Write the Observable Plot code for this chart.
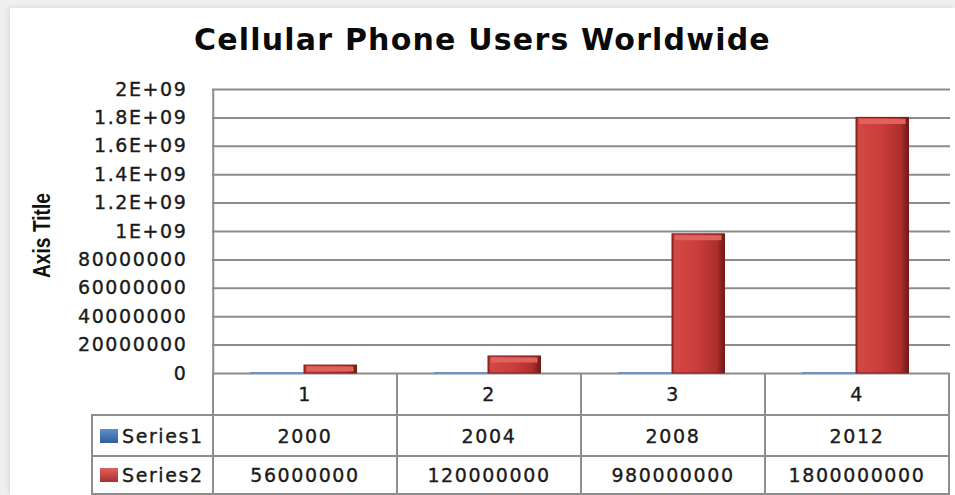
<!DOCTYPE html>
<html>
<head>
<meta charset="utf-8">
<script src="https://cdn.jsdelivr.net/npm/d3@7"></script>
<script src="https://cdn.jsdelivr.net/npm/@observablehq/plot@0.6"></script>
<style>
  html, body { margin: 0; padding: 0; background: #efefef; }
  #wrap { position: relative; width: 955px; height: 495px; overflow: hidden; background: #efefef; }
  #card { position: absolute; left: 10px; top: 8px; width: 945px; height: 487px; background: #fff; box-shadow: -2px -1px 4px rgba(0,0,0,0.08); }
  #title { position: absolute; left: 10px; top: 22px; width: 945px; text-align: center;
           font-family: "DejaVu Sans", Verdana, sans-serif; font-weight: bold; font-size: 30px; letter-spacing: 1.2px; color: #0a0a0a; }
  #chart { position: absolute; left: 0; top: 0; }
  #table { position: absolute; left: 0; top: 0; font-family: "DejaVu Sans", Verdana, sans-serif; font-size: 19px; letter-spacing: 1.6px; color: #1a1a1a; -webkit-text-stroke: 0.35px #1a1a1a; }
  .cell { position: absolute; box-sizing: border-box; display: flex; align-items: center; justify-content: center; }
  .hline, .vline { position: absolute; background: #8e8e8e; }
  .icon { display: inline-block; width: 18px; height: 14px; margin-right: 4px; -webkit-text-stroke: 0; }
</style>
</head>
<body>
<div id="wrap">
  <div id="card"></div>
  <div id="chart"></div>
  <div id="title"></div>
  <div id="table"></div>
</div>
<script>
const chartTitle = "Cellular Phone Users Worldwide";
const axisTitle = "Axis Title";
const categories = ["1", "2", "3", "4"];
const seriesNames = ["Series1", "Series2"];
const series1 = [2000, 2004, 2008, 2012];
const series2 = [56000000, 120000000, 980000000, 1800000000];
const yTicks = [0, 200000000, 400000000, 600000000, 800000000, 1000000000, 1200000000, 1400000000, 1600000000, 1800000000, 2000000000];
const yTickLabels = ["0", "20000000", "40000000", "60000000", "80000000", "1E+09", "1.2E+09", "1.4E+09", "1.6E+09", "1.8E+09", "2E+09"];

const rows1 = categories.map((c, i) => ({cat: c, series: seriesNames[0], value: series1[i]}));
const rows2 = categories.map((c, i) => ({cat: c, series: seriesNames[1], value: series2[i]}));

const W = 955, H = 495;
const mL = 212, mR = 5, mT = 89, mB = 122;
const bw = (W - mL - mR) / categories.length;
const barW = 53, in1 = 38, in2 = 91;

const chart = Plot.plot({
  width: W, height: H,
  marginTop: mT, marginBottom: mB, marginLeft: mL, marginRight: mR,
  style: {background: "transparent", fontFamily: "DejaVu Sans, Verdana, sans-serif", fontSize: "19px", color: "#1a1a1a"},
  x: {domain: categories, padding: 0, axis: null},
  y: {domain: [0, 2000000000], ticks: yTicks, tickFormat: d => yTickLabels[yTicks.indexOf(d)], tickSize: 0, tickPadding: 25, label: null},
  marks: [
    Plot.ruleY(yTicks, {stroke: "#8c8c8c", strokeWidth: 2}),
    Plot.ruleX([categories[0]], {x: d => d, dx: -bw / 2, y1: 0, y2: 2000000000, stroke: "#8c8c8c", strokeWidth: 2}),
    Plot.barY(rows1, {x: "cat", y: "value", insetLeft: in1, insetRight: bw - in1 - barW, fill: "#7ea3d1", stroke: "#6a94c8", strokeWidth: 2}),
    Plot.barY(rows2, {x: "cat", y: "value", insetLeft: in2, insetRight: bw - in2 - barW, fill: "url(#redbar)", stroke: "#7a1c1a", strokeWidth: 1}),
    Plot.tickY(rows2, {x: "cat", y: "value", dy: 3.5, insetLeft: in2 + 3, insetRight: bw - in2 - barW + 3, stroke: "#e0625d", strokeWidth: 5}),
    Plot.text([axisTitle], {text: d => d, frameAnchor: "left", textAnchor: "middle", dx: -170, dy: 4, rotate: -90,
      fontSize: 23, fontWeight: "bold", fill: "#111",
      fontFamily: "Liberation Sans Narrow, Arial Narrow, Liberation Sans, sans-serif"})
  ]
});

d3.select(chart).insert("defs", ":first-child").html(`
  <linearGradient id="redbar" x1="0" x2="1" y1="0" y2="0">
    <stop offset="0" stop-color="#8e2220"/>
    <stop offset="0.05" stop-color="#d24843"/>
    <stop offset="0.45" stop-color="#cc3e3b"/>
    <stop offset="0.85" stop-color="#ae2f2d"/>
    <stop offset="1" stop-color="#6e1a18"/>
  </linearGradient>`);
// tick labels: spacing and a little weight, like the original rendering
d3.select(chart).selectAll("g[aria-label='y-axis'] text, g[aria-label='y-axis tick label'] text")
  .style("letter-spacing", "1.6px").attr("stroke", "#1a1a1a").attr("stroke-width", 0.35);
// condensed axis title
d3.select(chart).selectAll("text").filter(function () { return this.textContent === axisTitle; })
  .attr("textLength", 85).attr("lengthAdjust", "spacingAndGlyphs");

document.getElementById("chart").appendChild(chart);
document.getElementById("title").textContent = chartTitle;

// Data table aligned with the chart's x scale
const xs = chart.scale("x");
const table = document.getElementById("table");
const rowTops = [373, 415, 456];
const rowBottoms = [415, 456, 494];
const leftCol = 92;
const xEnd = xs.apply(categories[categories.length - 1]) + xs.bandwidth;
function add(cls, style, html) {
  const d = document.createElement("div");
  d.className = cls;
  Object.assign(d.style, style);
  if (html != null) d.innerHTML = html;
  table.appendChild(d);
  return d;
}
[rowTops[1], rowTops[2], rowBottoms[2]].forEach(y => {
  add("hline", {left: leftCol - 1 + "px", top: y - 1 + "px", width: (xEnd - leftCol + 2) + "px", height: "2px"});
});
add("vline", {left: leftCol - 1 + "px", top: rowTops[1] - 1 + "px", width: "2px", height: (rowBottoms[2] - rowTops[1] + 2) + "px"});
categories.forEach(c => {
  add("vline", {left: xs.apply(c) - 1 + "px", top: rowTops[0] + "px", width: "2px", height: (rowBottoms[2] - rowTops[0]) + "px"});
});
add("vline", {left: xEnd - 1 + "px", top: rowTops[0] + "px", width: "2px", height: (rowBottoms[2] - rowTops[0]) + "px"});
categories.forEach(c => {
  add("cell", {left: xs.apply(c) + "px", top: rowTops[0] + "px", width: xs.bandwidth + "px", height: (rowBottoms[0] - rowTops[0]) + "px"}, c);
});
const seriesData = [series1, series2];
const iconBg = ["linear-gradient(#5d8fcf, #2f5f99)", "linear-gradient(#e0605c, #a8302d)"];
seriesNames.forEach((name, r) => {
  const top = rowTops[r + 1], h = rowBottoms[r + 1] - top;
  add("cell", {left: leftCol + "px", top: top + "px", width: (mL - leftCol) + "px", height: h + "px", justifyContent: "flex-start", paddingLeft: "8px"},
      `<span class="icon" style="background:${iconBg[r]}"></span>${name}`);
  categories.forEach((c, i) => {
    add("cell", {left: xs.apply(c) + "px", top: top + "px", width: xs.bandwidth + "px", height: h + "px"}, String(seriesData[r][i]));
  });
});
</script>
</body>
</html>
